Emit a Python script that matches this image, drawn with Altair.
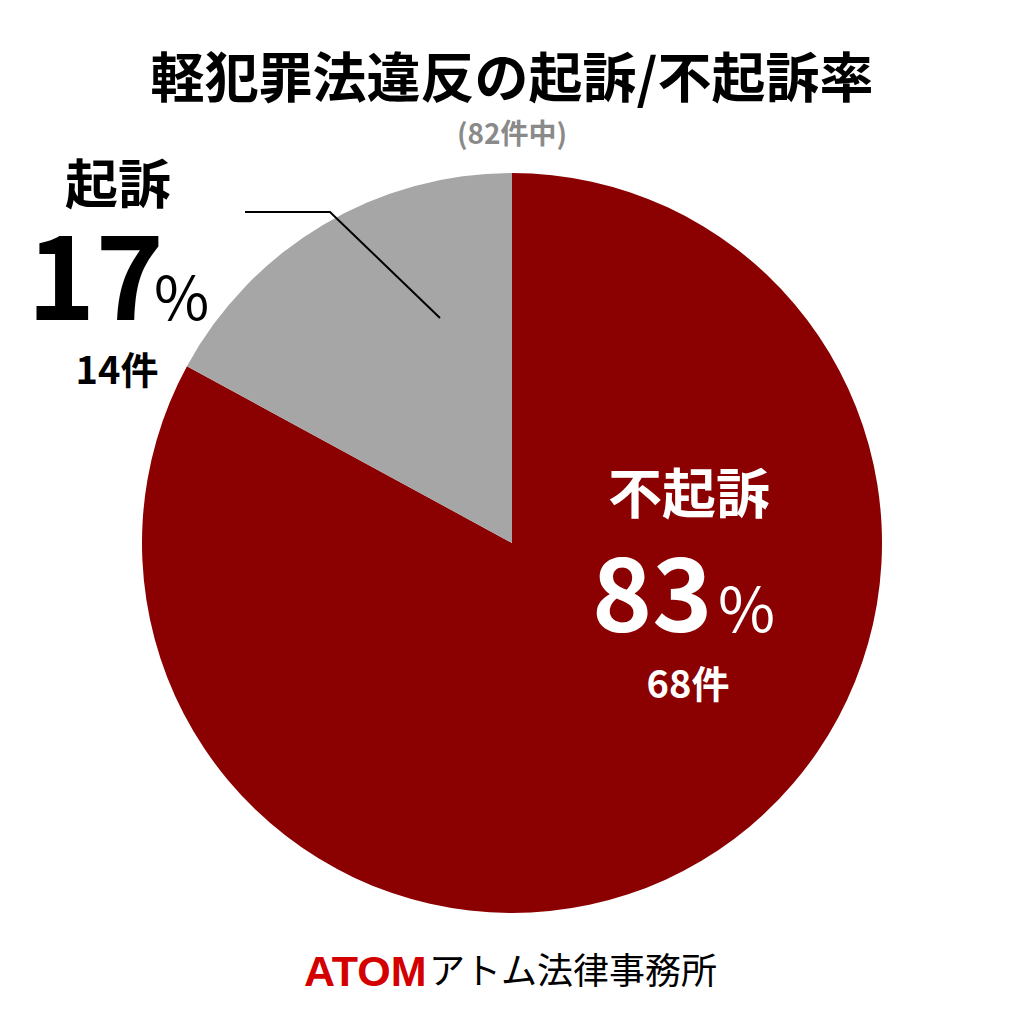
import altair as alt
import pandas as pd

categories = ["不起訴", "起訴"]
counts = [68, 14]
percents = ["83", "17"]
colors = ["#8B0000", "#A6A6A6"]
total_label = "(82件中)"
title_text = "軽犯罪法違反の起訴/不起訴率"

JP = "Noto Sans CJK JP"
W = H = 1008
CX, CY, R = 504, 535, 370

pie_df = pd.DataFrame({"category": categories, "count": counts, "order": [0, 1]})

pie = alt.Chart(pie_df).mark_arc(radius=R, stroke=None).encode(
    theta=alt.Theta("count:Q", stack=True),
    order=alt.Order("order:Q"),
    color=alt.Color("category:N", scale=alt.Scale(domain=categories, range=colors), legend=None),
    x=alt.value(CX),
    y=alt.value(CY),
)

def txt(text, x, y, size, color="#000000", weight="bold", align="center", baseline="middle", font=JP):
    return alt.Chart(pd.DataFrame({"t": [text]})).mark_text(
        font=font, fontSize=size, fontWeight=weight, color=color, align=align, baseline=baseline
    ).encode(text="t:N", x=alt.value(x), y=alt.value(y))

layers = [pie]
layers.append(txt(title_text, 504, 74, 54))
layers.append(txt(total_label, 504, 128, 28, color="#8A8A8A"))

# 起訴 label
layers.append(txt(categories[1], 110, 180, 53))
layers.append(txt(percents[1], 19, 312, 116, align="left", baseline="alphabetic"))
layers.append(txt("%", 146, 312, 60, align="left", baseline="alphabetic", weight="normal"))
layers.append(txt(f"{counts[1]}件", 109, 376, 38, align="center", baseline="alphabetic"))

# 不起訴 label
layers.append(txt(categories[0], 681, 490, 54, color="#FFFFFF"))
layers.append(txt(percents[0], 584, 624, 102, color="#FFFFFF", align="left", baseline="alphabetic"))
layers.append(txt("%", 710, 624, 62, color="#FFFFFF", align="left", baseline="alphabetic", weight="normal"))
layers.append(txt(f"{counts[0]}件", 680, 690, 38, color="#FFFFFF", baseline="alphabetic"))

# leader line
line_df = pd.DataFrame({"px": [237, 322, 432], "py": [204, 204, 310], "o": [0, 1, 2]})
leader = alt.Chart(line_df).mark_line(color="#000000", strokeWidth=2).encode(
    x=alt.X("px:Q", scale=alt.Scale(domain=[0, W], range=[0, W]), axis=None),
    y=alt.Y("py:Q", scale=alt.Scale(domain=[0, H], range=[0, H]), axis=None),
    order="o:Q",
)
layers.append(leader)

# footer
layers.append(txt("ATOM", 296, 965, 43, color="#D40000", align="left", weight="bold", font="Liberation Sans"))
layers.append(txt("アトム法律事務所", 421, 965, 36, align="left", weight="normal"))

chart = alt.layer(*layers).properties(
    width=W, height=H, padding=0, autosize=alt.AutoSizeParams(type="none"), background="#FFFFFF"
).configure_view(stroke=None)

chart.save("out.html", embed_options={"renderer": "svg", "actions": False})
